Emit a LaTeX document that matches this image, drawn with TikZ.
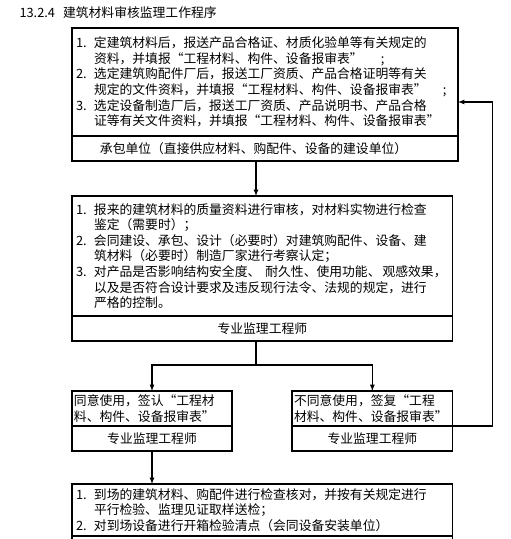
\documentclass[tikz,border=0pt]{standalone}
\usepackage{fontspec}
\newfontfamily\cjk{Noto Sans CJK SC}
\usetikzlibrary{positioning}

\tikzstyle{bodybox}=[draw, line width=1.2pt, anchor=north west, outer sep=0pt, inner xsep=4pt, inner ysep=0pt, align=left]
\tikzstyle{unitbox}=[draw, line width=1.2pt, outer sep=0pt, minimum height=25pt, inner xsep=4pt, inner ysep=0pt]
\tikzstyle{dep}=[-latex, line width=1.2pt]
\newcommand{\itemno}[1]{\makebox[18pt][l]{#1}}
\newcommand{\cont}{\hspace*{18pt}}

\begin{document}
\begin{tikzpicture}[x=1pt, y=-1pt, font=\cjk\fontsize{12.8}{15.6}\selectfont]
      \useasboundingbox (0,0) rectangle (511,539);
      \clip (0,0) rectangle (511,539);
      \node[anchor=west] (title) at (16,13) {13.2.4\hspace{8pt}建筑材料审核监理工作程序};

      \node[bodybox, minimum width=386pt, minimum height=108pt, text width=378pt] (supply) at (72,28) {%
        \itemno{1.}定建筑材料后，报送产品合格证、材质化验单等有关规定的\\
        \cont 资料，并填报“工程材料、构件、设备报审表”\hspace{18pt};\\
        \itemno{2.}选定建筑购配件厂后，报送工厂资质、产品合格证明等有关\\
        \cont 规定的文件资料，并填报“工程材料、构件、设备报审表”\hspace{16pt};\\
        \itemno{3.}选定设备制造厂后，报送工厂资质、产品说明书、产品合格\\
        \cont 证等有关文件资料，并填报“工程材料、构件、设备报审表”};
      \node[unitbox, minimum width=386pt, text width=378pt, align=left, below=0pt of supply] (supplier)
        {\hspace*{24pt}承包单位（直接供应材料、购配件、设备的建设单位）};
      \draw[line width=2.2pt] (supply.north east) -- (supplier.south east);

      \node[bodybox, minimum width=380.7pt, minimum height=120pt, text width=372.7pt] (check) at (72,196) {%
        \itemno{1.}报来的建筑材料的质量资料进行审核，对材料实物进行检查\\
        \cont 鉴定（需要时）；\\
        \itemno{2.}会同建设、承包、设计（必要时）对建筑购配件、设备、建\\
        \cont 筑材料（必要时）制造厂家进行考察认定；\\
        \itemno{3.}对产品是否影响结构安全度、\hspace{5pt}耐久性、使用功能、\hspace{2pt}观感效果，\\
        \cont 以及是否符合设计要求及违反现行法令、法规的规定，进行\\
        \cont 严格的控制。};
      \node[unitbox, minimum width=380.7pt, below=0pt of check] (checkunit) {专业监理工程师};

      \node[bodybox, minimum width=160pt, minimum height=35pt, text width=156pt, inner xsep=2pt] (accept) at (72,391)
        {同意使用，签认“工程材\\料、构件、设备报审表”};
      \node[unitbox, minimum width=160pt, below=0pt of accept] (acceptunit) {专业监理工程师};

      \node[bodybox, minimum width=160.7pt, minimum height=35pt, text width=156.7pt, inner xsep=2pt] (reject) at (292,391)
        {不同意使用，签复“工程\\材料、构件、设备报审表”};
      \node[unitbox, minimum width=160.7pt, below=0pt of reject] (rejectunit) {专业监理工程师};

      \node[bodybox, minimum width=380.7pt, minimum height=52pt, text width=372.7pt] (arrival) at (72,484) {%
        \itemno{1.}到场的建筑材料、购配件进行检查核对，并按有关规定进行\\
        \cont 平行检验、监理见证取样送检；\\
        \itemno{2.}对到场设备进行开箱检验清点（会同设备安装单位）};
      \node[unitbox, minimum width=380.7pt, below=0pt of arrival] (arrivalunit) {};

      \coordinate (fork) at (256,365);
      \draw[dep] (supplier.south -| fork) -- (check.north -| fork);
      \draw[line width=1.2pt] (checkunit.south -| fork) -- (fork);
      \draw[dep] (fork) -| (accept.north);
      \draw[dep] (fork) -| (reject.north);
      \draw[dep] (acceptunit.south) -- (arrival.north -| acceptunit.south);
      \draw[dep] (reject.south east) -- ++(40,0) |- ([yshift=-20pt]supply.east);
    \end{tikzpicture}
\end{document}
